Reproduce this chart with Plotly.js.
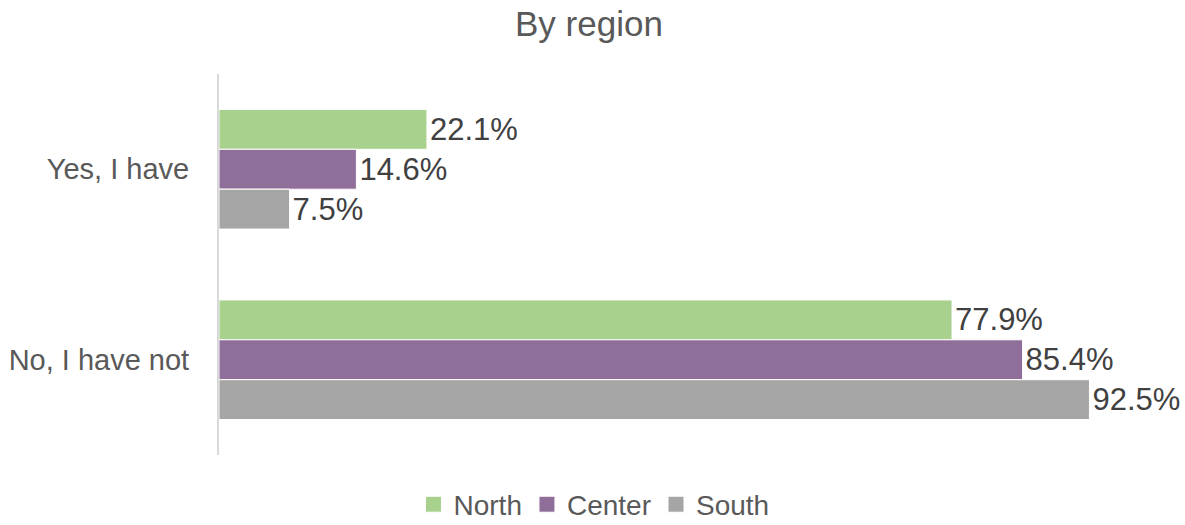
<!DOCTYPE html>
<html>
<head>
<meta charset="utf-8">
<script src="https://cdn.plot.ly/plotly-3.0.1.min.js"></script>
<style>html,body{margin:0;padding:0;background:#fff;}#chart{width:1185px;height:525px;}</style>
</head>
<body>
<div id="chart"></div>
<script>
const categories = ["Yes, I have", "No, I have not"];
const seriesNames = ["North", "Center", "South"];
const north = [22.1, 77.9];
const center = [14.6, 85.4];
const south = [7.5, 92.5];
const colors = ["#a9d18e", "#8f6f99", "#a5a5a5"];
const values = [north, center, south];

const FONT = "Liberation Sans, Arial, sans-serif";
const traces = values.map((vals, i) => ({
  type: "bar",
  orientation: "h",
  name: seriesNames[i],
  y: categories,
  x: vals,
  marker: {color: colors[i], line: {color: "#ffffff", width: 1}},
  text: vals.map(v => v.toFixed(1) + "%"),
  textposition: "outside",
  textfont: {family: FONT, size: 31, color: "#404040"},
  cliponaxis: false,
  constraintext: "none",
  hoverinfo: "none"
}));

const layout = {
  width: 1185, height: 525,
  margin: {l: 219, r: 25, t: 74, b: 70, autoexpand: false},
  paper_bgcolor: "#ffffff", plot_bgcolor: "#ffffff",
  font: {family: FONT, color: "#595959"},
  title: {text: "By region", font: {family: FONT, size: 35, color: "#595959"}, x: 0.497, xanchor: "center", y: 0.955, yanchor: "middle"},
  barmode: "group",
  bargap: 0.372,
  bargroupgap: 0,
  showlegend: true,
  legend: {orientation: "h", x: 0.3985, xanchor: "center", y: -0.13, yanchor: "middle", font: {family: FONT, size: 28, color: "#595959"}, itemwidth: 30, traceorder: "normal"},
  xaxis: {range: [0, 100], showgrid: false, zeroline: false, showticklabels: false, showline: false, fixedrange: true},
  yaxis: {autorange: "reversed", type: "category", showgrid: false, zeroline: false, showline: true, linecolor: "#d9d9d9", linewidth: 2, ticks: "", ticklabelstandoff: 22, tickfont: {family: FONT, size: 29, color: "#595959"}, fixedrange: true}
};

Plotly.newPlot("chart", traces, layout, {displayModeBar: false, staticPlot: true}).then(gd => {
  gd.querySelectorAll(".legendpoints path").forEach(p => {
    p.setAttribute("d", "M8,8H-8V-8H8Z");
  });
});
</script>
</body>
</html>
